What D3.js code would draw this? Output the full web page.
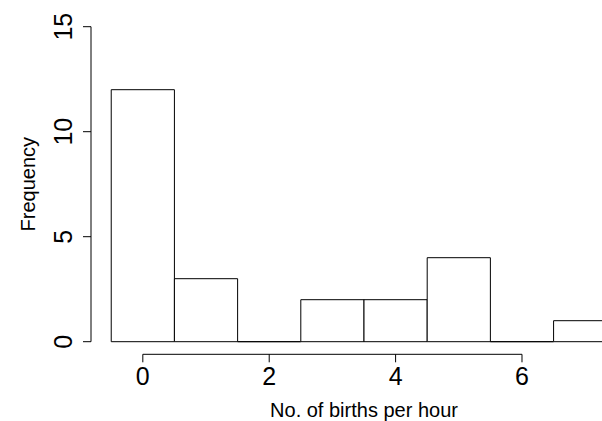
<!DOCTYPE html>
<html lang="en">
<head>
  <meta charset="UTF-8">
  <title>Births per hour histogram</title>
  <style>
    html, body { margin: 0; background: #fff; overflow: hidden; }
    svg { display: block; font-family: "Liberation Sans", Arial, sans-serif; }
    .bar { fill: #fff; stroke: #000; stroke-width: 1px; }
    .axis line, .axis path { stroke: #000; stroke-width: 1px; fill: none; }
    .tick-label { font-size: 25px; fill: #000; }
    .title { font-size: 20px; fill: #000; }
  </style>
  <script src="https://d3js.org/d3.v7.min.js"></script>
</head>
<body>
  <svg id="chart"></svg>
  <script>
    // histogram data
    var breaks = [-0.5, 0.5, 1.5, 2.5, 3.5, 4.5, 5.5, 6.5, 7.5];
    var counts = [12, 3, 0, 2, 2, 4, 0, 1];
    var xTicks = [0, 2, 4, 6];
    var yTicks = [0, 5, 10, 15];
    var xTitle = "No. of births per hour";
    var yTitle = "Frequency";

    var width = 602, height = 421;
    var chart = d3.select('#chart')
      .attr('width', width)
      .attr('height', height);

    // R style 4% extension of the limits
    var xlim = [breaks[0], breaks[breaks.length - 1]];
    var dx = (xlim[1] - xlim[0]) * 0.04;
    var ylim = [0, 15];
    var dy = (ylim[1] - ylim[0]) * 0.04;

    var x = d3.scaleLinear().domain([xlim[0] - dx, xlim[1] + dx]).range([91, 637]);
    var y = d3.scaleLinear().domain([ylim[0] - dy, ylim[1] + dy]).range([354.3, 14.1]);

    var bins = counts.map(function(c, i) {
      return { x0: breaks[i], x1: breaks[i + 1], n: c };
    });

    // bars as closed paths so empty bins still show their base line
    chart.append('g').selectAll('path')
      .data(bins).enter().append('path')
      .attr('class', 'bar')
      .attr('d', function(d) {
        var p = d3.path();
        p.moveTo(x(d.x0), y(0));
        p.lineTo(x(d.x0), y(d.n));
        p.lineTo(x(d.x1), y(d.n));
        p.lineTo(x(d.x1), y(0));
        p.closePath();
        return p.toString();
      });

    // x axis
    var gx = chart.append('g').attr('class', 'axis');
    gx.append('line')
      .attr('x1', x(xTicks[0])).attr('x2', x(xTicks[xTicks.length - 1]))
      .attr('y1', y.range()[0]).attr('y2', y.range()[0]);
    gx.selectAll('.tk').data(xTicks).enter().append('line')
      .attr('x1', function(d) { return x(d); }).attr('x2', function(d) { return x(d); })
      .attr('y1', y.range()[0]).attr('y2', y.range()[0] + 8);
    gx.selectAll('text').data(xTicks).enter().append('text')
      .attr('class', 'tick-label')
      .attr('text-anchor', 'middle')
      .attr('x', function(d) { return x(d); })
      .attr('y', 385)
      .text(function(d) { return d; });

    // y axis
    var gy = chart.append('g').attr('class', 'axis');
    gy.append('line')
      .attr('x1', x.range()[0]).attr('x2', x.range()[0])
      .attr('y1', y(yTicks[0])).attr('y2', y(yTicks[yTicks.length - 1]));
    gy.selectAll('.tk').data(yTicks).enter().append('line')
      .attr('x1', x.range()[0]).attr('x2', x.range()[0] - 8)
      .attr('y1', function(d) { return y(d); }).attr('y2', function(d) { return y(d); });
    gy.selectAll('text').data(yTicks).enter().append('text')
      .attr('class', 'tick-label')
      .attr('text-anchor', 'middle')
      .attr('transform', function(d) { return 'translate(72,' + y(d) + ') rotate(-90)'; })
      .text(function(d) { return d; });

    // titles
    chart.append('text').attr('class', 'title')
      .attr('text-anchor', 'middle')
      .attr('x', (x.range()[0] + x.range()[1]) / 2)
      .attr('y', 417)
      .text(xTitle);
    chart.append('text').attr('class', 'title')
      .attr('text-anchor', 'middle')
      .attr('transform', 'translate(35,' + ((y.range()[0] + y.range()[1]) / 2) + ') rotate(-90)')
      .text(yTitle);
  </script>
</body>
</html>
